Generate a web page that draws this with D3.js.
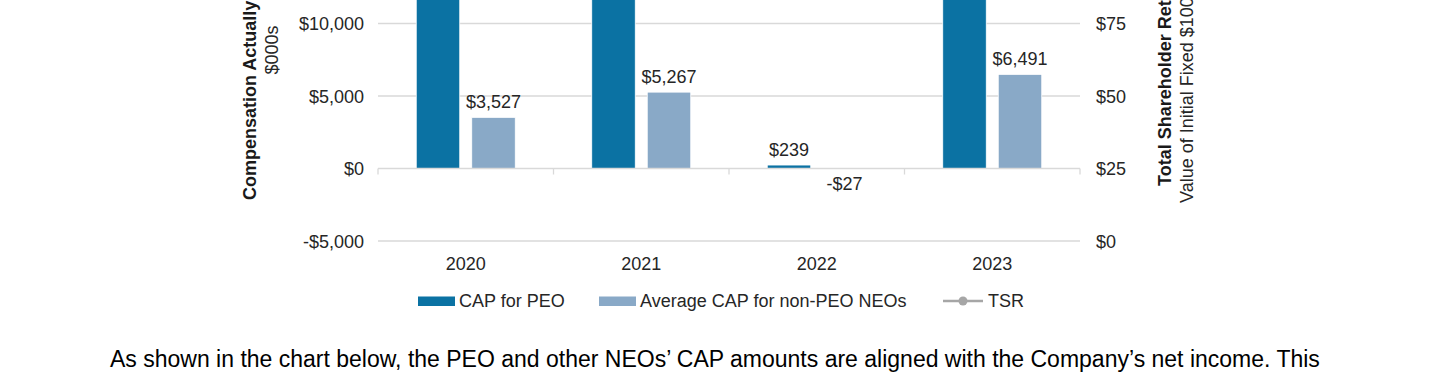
<!DOCTYPE html>
<html>
<head>
<meta charset="utf-8">
<script src="https://cdn.jsdelivr.net/npm/d3@7"></script>
<style>
  body { margin: 0; background: #fff; }
  svg { display: block; font-family: "Liberation Sans", Arial, sans-serif; }
</style>
</head>
<body>
<div id="chart"></div>
<script>
// chart data (top of the chart is cropped off in the page, PEO/TSR values are estimates)
const years = ["2020", "2021", "2022", "2023"];
const series = ["CAP for PEO", "Average CAP for non-PEO NEOs"];
const capPeo = [18500, 21000, 239, 19500];
const capNeo = [3527, 5267, -27, 6491];
const tsr = [100, 112, 95, 118];
const leftTicks = [-5000, 0, 5000, 10000, 15000, 20000, 25000];
const rightTicks = [0, 25, 50, 75, 100, 125, 150];

const colors = ["#0b72a3", "#89a9c7"];
const W = 1440, H = 375;

const svg = d3.select("#chart").append("svg")
  .attr("width", W).attr("height", H);

// scales: plot area bottom at 241, 72.5px per 5,000
const x0 = d3.scaleBand().domain(years).range([378, 1080]);
const x1 = d3.scaleBand().domain(series).range([0, x0.bandwidth()])
  .paddingInner(0.216).paddingOuter(0.689);
const y = d3.scaleLinear().domain([-5000, 25000]).range([241, 241 - 6 * 72.5]);
const y2 = d3.scaleLinear().domain([0, 150]).range([241, 241 - 6 * 72.5]);

// gridlines
svg.append("g").selectAll("line")
  .data(leftTicks.filter(d => d !== 0))
  .enter().append("line")
  .attr("x1", 378).attr("x2", 1080)
  .attr("y1", d => y(d)).attr("y2", d => y(d))
  .attr("stroke", "#d9d9d9").attr("stroke-width", 1.3);

// left axis labels
svg.append("g").selectAll("text")
  .data(leftTicks)
  .enter().append("text")
  .attr("x", 364).attr("y", d => y(d) + 6.5)
  .attr("text-anchor", "end")
  .attr("font-size", "18px").attr("fill", "#262626")
  .text(d => (d < 0 ? "-$" : "$") + d3.format(",")(Math.abs(d)));

// right axis labels
svg.append("g").selectAll("text")
  .data(rightTicks)
  .enter().append("text")
  .attr("x", 1096).attr("y", d => y2(d) + 6.5)
  .attr("font-size", "18px").attr("fill", "#262626")
  .text(d => "$" + d);

// bars
const peoNeo = years.map((yr, i) => ({ year: yr, vals: [capPeo[i], capNeo[i]] }));
const groups = svg.append("g").selectAll("g")
  .data(peoNeo)
  .enter().append("g")
  .attr("transform", d => `translate(${x0(d.year)},0)`);

groups.selectAll("rect")
  .data(d => d.vals.map((v, j) => ({ s: series[j], v, j })))
  .enter().append("rect")
  .attr("x", d => x1(d.s))
  .attr("width", x1.bandwidth())
  .attr("y", d => Math.min(y(d.v), y(0)))
  .attr("height", d => Math.abs(y(d.v) - y(0)))
  .attr("fill", d => colors[d.j])
  .attr("stroke", "#fff").attr("stroke-width", 0.8);

groups.selectAll("text")
  .data(d => d.vals.map((v, j) => ({ s: series[j], v, j })))
  .enter().append("text")
  .attr("x", d => x1(d.s) + x1.bandwidth() / 2)
  .attr("y", d => d.v >= 0 ? y(d.v) - 9 : y(0) + 21)
  .attr("text-anchor", "middle")
  .attr("font-size", "18px").attr("fill", "#262626")
  .text(d => (d.v < 0 ? "-$" : "$") + d3.format(",")(Math.abs(d.v)));

// TSR line (above the visible part)
const line = d3.line()
  .x((d, i) => x0(years[i]) + x0.bandwidth() / 2)
  .y(d => y2(d));
svg.append("path").datum(tsr)
  .attr("d", line).attr("fill", "none")
  .attr("stroke", "#a6a6a6").attr("stroke-width", 2.5);
svg.append("g").selectAll("circle").data(tsr).enter().append("circle")
  .attr("cx", (d, i) => x0(years[i]) + x0.bandwidth() / 2)
  .attr("cy", d => y2(d)).attr("r", 4.5).attr("fill", "#a6a6a6");

// zero axis with category ticks
svg.append("line")
  .attr("x1", 378).attr("x2", 1080).attr("y1", y(0)).attr("y2", y(0))
  .attr("stroke", "#d9d9d9").attr("stroke-width", 1.3);
svg.append("g").selectAll("line")
  .data(x0.domain().map(d => x0(d)).concat([1080]))
  .enter().append("line")
  .attr("x1", d => d).attr("x2", d => d)
  .attr("y1", y(0)).attr("y2", y(0) + 6)
  .attr("stroke", "#d9d9d9").attr("stroke-width", 1.3);

// year labels
svg.append("g").selectAll("text")
  .data(years)
  .enter().append("text")
  .attr("x", d => x0(d) + x0.bandwidth() / 2).attr("y", 269.5)
  .attr("text-anchor", "middle")
  .attr("font-size", "18px").attr("fill", "#262626")
  .text(d => d);

// axis titles
svg.append("text")
  .attr("transform", "translate(256,200) rotate(-90)")
  .attr("font-size", "18px").attr("font-weight", "bold").attr("fill", "#1a1a1a")
  .text("Compensation Actually Paid");
svg.append("text")
  .attr("transform", "translate(278,50) rotate(-90)")
  .attr("text-anchor", "middle")
  .attr("font-size", "18px").attr("fill", "#262626")
  .text("$000s");
svg.append("text")
  .attr("transform", "translate(1171,186) rotate(-90)")
  .attr("font-size", "18px").attr("font-weight", "bold").attr("fill", "#1a1a1a")
  .text("Total Shareholder Return");
svg.append("text")
  .attr("transform", "translate(1193,203) rotate(-90)")
  .attr("font-size", "18px").attr("fill", "#262626")
  .text("Value of Initial Fixed $100 Investment");

// legend
const legend = svg.append("g");
const lg = [
  { label: series[0], x: 418, type: "bar", color: colors[0] },
  { label: series[1], x: 599, type: "bar", color: colors[1] },
  { label: "TSR", x: 943, type: "line", color: "#a6a6a6" }
];
lg.forEach(d => {
  const g = legend.append("g").attr("transform", `translate(${d.x},301)`);
  if (d.type === "bar") {
    g.append("rect").attr("x", 0).attr("y", -4.5).attr("width", 37).attr("height", 9.5)
      .attr("fill", d.color);
  } else {
    g.append("line").attr("x1", 0).attr("x2", 40).attr("y1", 0).attr("y2", 0)
      .attr("stroke", d.color).attr("stroke-width", 2.5);
    g.append("circle").attr("cx", 20).attr("cy", 0).attr("r", 4.5).attr("fill", d.color);
  }
  g.append("text").attr("x", d.type === "bar" ? 41 : 45).attr("y", 6)
    .attr("font-size", "18px").attr("fill", "#262626").text(d.label);
});

// paragraph below the chart
svg.append("text")
  .attr("x", 110).attr("y", 366.5)
  .attr("font-size", "23px").attr("fill", "#000")
  .text("As shown in the chart below, the PEO and other NEOs\u2019 CAP amounts are aligned with the Company\u2019s net income. This");
</script>
</body>
</html>
